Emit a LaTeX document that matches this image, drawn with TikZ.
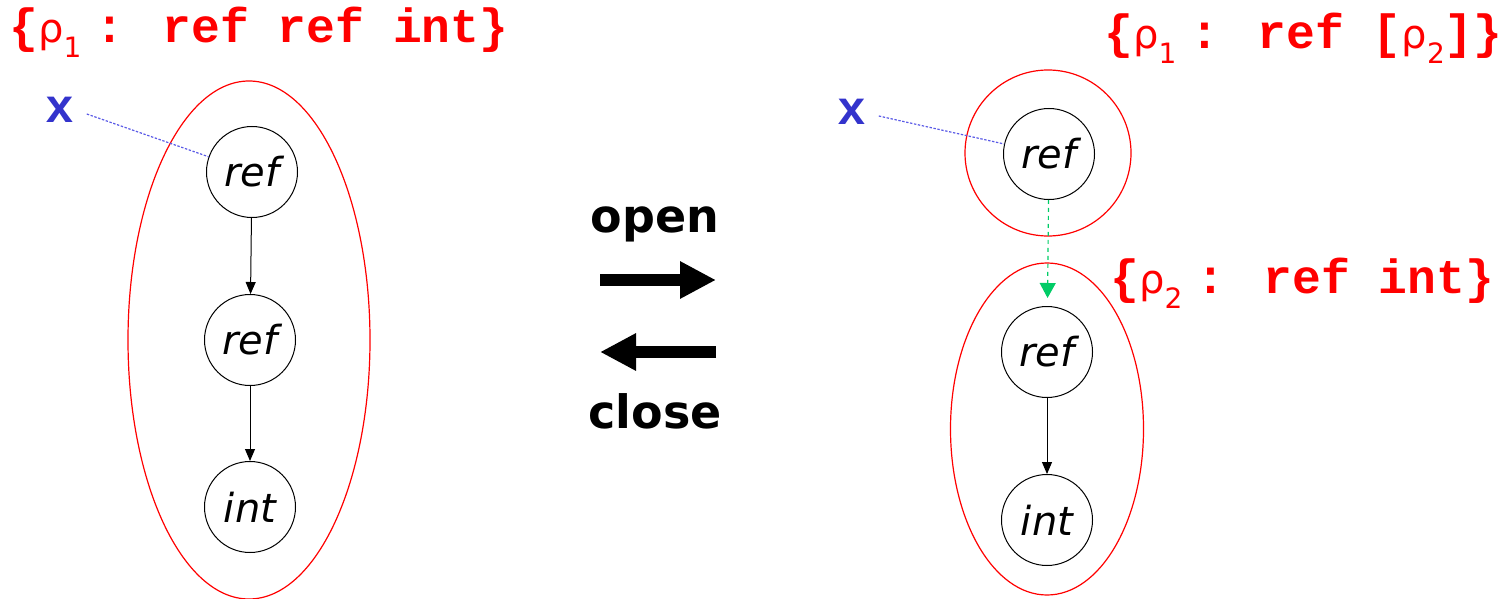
\documentclass[tikz,border=0pt]{standalone}
\usepackage{fontspec}
\setmainfont{DejaVu Sans}
\newfontfamily\monof{Liberation Mono}
\newfontfamily\greekf{DejaVu Sans}
\usetikzlibrary{arrows.meta}
\definecolor{lblred}{RGB}{255,0,0}
\definecolor{xblue}{RGB}{51,51,204}
\definecolor{dotblue}{RGB}{90,90,230}
\definecolor{arrgreen}{RGB}{0,204,102}
\newcommand{\rhosub}[1]{{\greekf\mdseries\fontsize{20}{20}\selectfont ρ}\raisebox{-7.5pt}{\greekf\mdseries\fontsize{14}{14}\selectfont #1}}
\newcommand{\regpre}[1]{\makebox[43pt][l]{\{\rhosub{#1}}}
\tikzset{
 cell/.style={circle, draw=black, line width=0.5pt, minimum size=45.5pt, inner sep=0pt, font=\fontsize{20}{20}\selectfont\itshape},
 region/.style={draw=lblred, line width=0.6pt},
 typelbl/.style={text=lblred, font=\monof\bfseries\fontsize{24}{24}\selectfont, anchor=base west, inner sep=0pt},
 varlbl/.style={text=xblue, font=\monof\bfseries\fontsize{24}{24}\selectfont, inner sep=0pt},
 ptr/.style={draw=dotblue, dash pattern=on 1.2pt off 0.8pt, line width=0.6pt},
 edgearr/.style={draw=black, line width=0.5pt, -{Triangle[length=6pt,width=5pt]}},
 greenarr/.style={draw=arrgreen, line width=0.6pt, dash pattern=on 2pt off 2pt, -{Triangle[length=7.5pt,width=8pt]}, shorten >=4pt},
 bigarr/.style={draw=black, line width=6pt, -{Triangle[length=18pt,width=17.5pt]}},
 oplbl/.style={font=\bfseries\fontsize{23}{23}\selectfont, anchor=base, inner sep=0pt},
}
\begin{document}
\begin{tikzpicture}[x=0.5pt,y=-0.5pt]
\useasboundingbox (0,0) rectangle (1504,599);
% left
\draw[region] (249,340) ellipse [x radius=121, y radius=259];
\node[cell] (L1) at (252,172) {ref};
\node[cell] (L2) at (250,340) {ref};
\node[cell] (L3) at (250,507) {int};
\draw[edgearr] (L1) -- (L2);
\draw[edgearr] (L2) -- (L3);
\node[varlbl] (xL) at (60,110) {x};
\draw[ptr] ([xshift=6pt,yshift=-2pt]xL.east) -- (L1);
\node[typelbl] (tL) at (9,43) {\regpre{1}: ref ref int\}};
% middle
\node[oplbl] (open) at (655,232) {open};
\node[oplbl] (close) at (655,428) {close};
\coordinate (o1) at (600,280);
\coordinate (o2) at (716,280);
\coordinate (c1) at (716,352);
\coordinate (c2) at (600,352);
\draw[bigarr] (o1) -- (o2);
\draw[bigarr] (c1) -- (c2);
% right
\draw[region] (1048,153) circle [radius=83];
\draw[region] (1047,429) ellipse [x radius=96.5, y radius=166];
\node[cell] (R1) at (1049,154) {ref};
\node[cell] (R2) at (1047,352) {ref};
\node[cell] (R3) at (1047,520) {int};
\draw[greenarr] (R1) -- (R2);
\draw[edgearr] (R2) -- (R3);
\node[varlbl] (xR) at (852,112) {x};
\draw[ptr] ([xshift=6pt,yshift=-2pt]xR.east) -- (R1);
\node[typelbl] (tR1) at (1104,49) {\regpre{1}: ref [\rhosub{2}]\}};
\node[typelbl] (tR2) at (1110,293) {\regpre{2}: ref int\}};
\end{tikzpicture}
\end{document}
